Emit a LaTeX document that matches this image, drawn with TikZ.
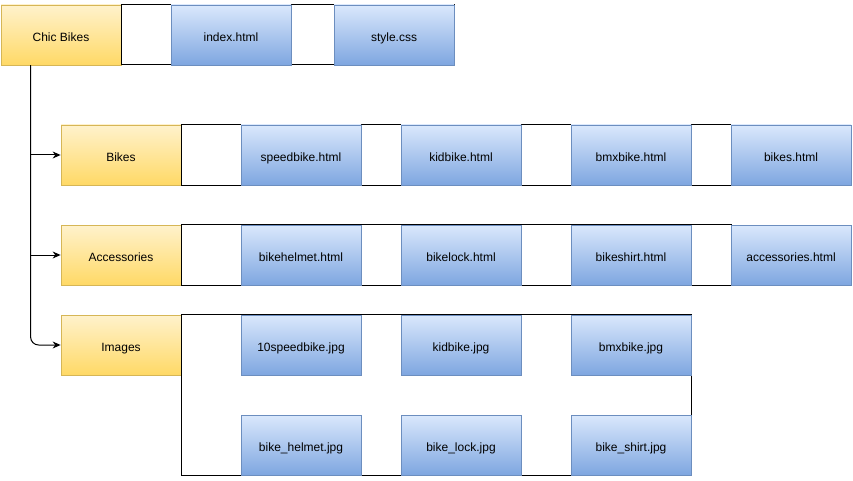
\documentclass[tikz,border=0pt]{standalone}
\usepackage{fontspec}
\setmainfont{Liberation Sans}
\usetikzlibrary{arrows.meta,calc}
\definecolor{ytop}{HTML}{FFF2CC}
\definecolor{ybot}{HTML}{FFD966}
\definecolor{ybrd}{HTML}{D6B656}
\definecolor{btop}{HTML}{DAE8FC}
\definecolor{bbot}{HTML}{7EA6E0}
\definecolor{bbrd}{HTML}{6C8EBF}
\tikzset{
  box/.style={minimum width=120pt, minimum height=60pt, inner sep=0pt, line width=0.8pt,
    text height=12.5pt, text depth=0pt,
    font=\fontsize{12}{14}\selectfont, text=black},
  folder/.style={box, draw=ybrd, top color=ytop, bottom color=ybot},
  file/.style={box, draw=bbrd, top color=btop, bottom color=bbot},
  container/.style={draw=black, line width=1pt},
  link/.style={draw=black, line width=1pt, -{Stealth[length=8pt,width=7pt]}}
}
\begin{document}
\begin{tikzpicture}[x=1pt,y=-1pt]
\useasboundingbox (0,0) rectangle (853,481);
% nodes
\node[folder] (chic) at (61,35) {Chic Bikes};
\node[folder] (bikes) at (121,155) {Bikes};
\node[folder] (acc) at (121,255) {Accessories};
\node[folder] (img) at (121,345) {Images};
% containers
\draw[container] (chic.north east) rectangle (454,65);
\draw[container] (bikes.north east) rectangle (731,185);
\draw[container] (acc.north east) rectangle (731,285);
\draw[container] (img.north east) rectangle (691,475);
% files
\node[file] (index) at (231,35) {index.html};
\node[file] (style) at (394,35) {style.css};
\node[file] (speed) at (301,155) {speedbike.html};
\node[file] (kid) at (461,155) {kidbike.html};
\node[file] (bmx) at (631,155) {bmxbike.html};
\node[file] (bikesh) at (791,155) {bikes.html};
\node[file] (helmet) at (301,255) {bikehelmet.html};
\node[file] (lock) at (461,255) {bikelock.html};
\node[file] (shirt) at (631,255) {bikeshirt.html};
\node[file] (acch) at (791,255) {accessories.html};
\node[file] (i1) at (301,345) {10speedbike.jpg};
\node[file] (i2) at (461,345) {kidbike.jpg};
\node[file] (i3) at (631,345) {bmxbike.jpg};
\node[file] (i4) at (301,445) {bike\_helmet.jpg};
\node[file] (i5) at (461,445) {bike\_lock.jpg};
\node[file] (i6) at (631,445) {bike\_shirt.jpg};
% connectors
\coordinate (trunk) at ([xshift=30]chic.south west);
\draw[link] (trunk) |- (bikes.west);
\draw[link] (trunk) |- (acc.west);
\draw[link, rounded corners=8pt] (trunk) |- (img.west);
\end{tikzpicture}
\end{document}
